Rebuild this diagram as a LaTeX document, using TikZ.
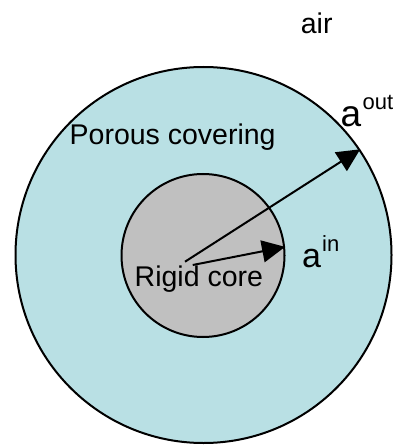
\documentclass[tikz,border=0pt]{standalone}
\usepackage{fontspec}
\setmainfont{Liberation Sans}
\usetikzlibrary{arrows.meta}
\definecolor{poreblue}{RGB}{185,224,228}
\definecolor{coregray}{RGB}{192,192,192}
\tikzset{
  ring/.style={circle, draw=black, line width=2pt, inner sep=0pt},
  radius arrow/.style={line width=2pt, -{Triangle[length=23pt,width=22pt]}},
  lbl/.style={inner sep=0pt, font=\fontsize{28.5}{32}\selectfont},
}
\begin{document}
\begin{tikzpicture}[x=1pt,y=-1pt]
\useasboundingbox[fill=white] (0,0) rectangle (403,446);
\node[ring, fill=poreblue, minimum size=376pt] (outer) at (203.5,255) {};
\node[ring, fill=coregray, minimum size=163pt] (inner) at (203,255.5) {};
\coordinate (s1) at (185,261.7);
\coordinate (s2) at (192.7,265);
\draw[radius arrow] (s1) -- (outer.34.3);
\draw[radius arrow] (s2) -- (inner.6.1);
\node[lbl, anchor=base] (air) at (316.7,33.3) {air};
\node[lbl, anchor=base west] (porous) at (69.5,145) {Porous covering};
\node[lbl, anchor=base west] (core) at (134.5,286) {Rigid core};
\node[lbl, anchor=base west] (aout) at (340.3,126.7) {\fontsize{37}{40}\selectfont a\kern1.5pt\raisebox{17pt}{\fontsize{22}{26}\selectfont out}};
\node[lbl, anchor=base west] (ain) at (302,267.3) {\fontsize{34}{40}\selectfont a\kern1pt\raisebox{16pt}{\fontsize{22}{26}\selectfont in}};
\end{tikzpicture}
\end{document}
